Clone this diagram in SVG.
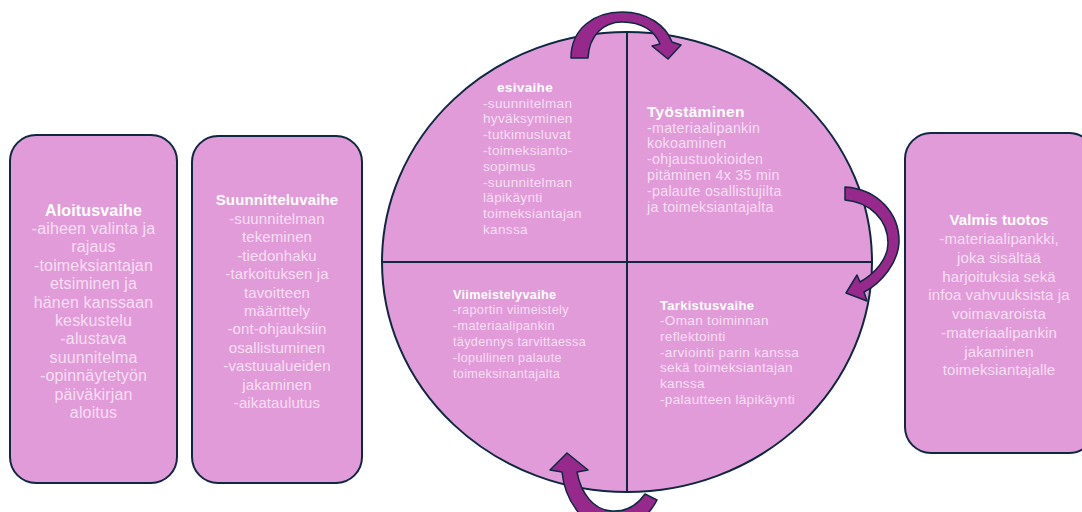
<svg xmlns="http://www.w3.org/2000/svg" width="1082" height="512" viewBox="0 0 1082 512">
<style>
.box{fill:#E29BD9;stroke:#0E2841;stroke-width:2}
.line{stroke:#0E2841;stroke-width:2;fill:none}
.arrow{fill:#97298C;stroke:#0E2841;stroke-width:1.5;stroke-linejoin:round}
.t{font-family:"Liberation Sans",Arial,sans-serif;fill:#F6DFF2}
.b{font-weight:bold;fill:#FFFFFF}
.bx{font-size:16px;text-anchor:middle;letter-spacing:0.15px}
.bx2{font-size:15px;text-anchor:middle;letter-spacing:0.1px}
.q{font-size:12.6px;letter-spacing:0.35px}
.q2{font-size:13.6px;letter-spacing:0.3px}
</style>
<rect width="1082" height="512" fill="#FFFFFF"/>

<g id="aloitusvaihe">
<rect class="box" x="10" y="135" width="167" height="348" rx="26"/>
<text class="t bx" x="93.5" y="215.5"><tspan class="b">Aloitusvaihe</tspan><tspan x="93.5" dy="18.4">-aiheen valinta ja</tspan><tspan x="93.5" dy="18.4">rajaus</tspan><tspan x="93.5" dy="18.4">-toimeksiantajan</tspan><tspan x="93.5" dy="18.4">etsiminen ja</tspan><tspan x="93.5" dy="18.4">hänen kanssaan</tspan><tspan x="93.5" dy="18.4">keskustelu</tspan><tspan x="93.5" dy="18.4">-alustava</tspan><tspan x="93.5" dy="18.4">suunnitelma</tspan><tspan x="93.5" dy="18.4">-opinnäytetyön</tspan><tspan x="93.5" dy="18.4">päiväkirjan</tspan><tspan x="93.5" dy="18.4">aloitus</tspan></text>
</g>

<g id="suunnitteluvaihe">
<rect class="box" x="192" y="136" width="170" height="347" rx="26"/>
<text class="t bx2" x="277" y="205.3"><tspan class="b">Suunnitteluvaihe</tspan><tspan x="277" dy="18.45">-suunnitelman</tspan><tspan x="277" dy="18.45">tekeminen</tspan><tspan x="277" dy="18.45">-tiedonhaku</tspan><tspan x="277" dy="18.45">-tarkoituksen ja</tspan><tspan x="277" dy="18.45">tavoitteen</tspan><tspan x="277" dy="18.45">määrittely</tspan><tspan x="277" dy="18.45">-ont-ohjauksiin</tspan><tspan x="277" dy="18.45">osallistuminen</tspan><tspan x="277" dy="18.45">-vastuualueiden</tspan><tspan x="277" dy="18.45">jakaminen</tspan><tspan x="277" dy="18.45">-aikataulutus</tspan></text>
</g>

<g id="valmis-tuotos">
<rect class="box" x="905" y="133" width="190" height="320" rx="26"/>
<text class="t bx2" x="999" y="225.3"><tspan class="b">Valmis tuotos</tspan><tspan x="999" dy="18.75">-materiaalipankki,</tspan><tspan x="999" dy="18.75">joka sisältää</tspan><tspan x="999" dy="18.75">harjoituksia sekä</tspan><tspan x="999" dy="18.75">infoa vahvuuksista ja</tspan><tspan x="999" dy="18.75">voimavaroista</tspan><tspan x="999" dy="18.75">-materiaalipankin</tspan><tspan x="999" dy="18.75">jakaminen</tspan><tspan x="999" dy="18.75">toimeksiantajalle</tspan></text>
</g>

<g id="kehä">
<ellipse class="box" cx="627" cy="262" rx="245" ry="230"/>
<line class="line" x1="627" y1="32" x2="627" y2="492"/>
<line class="line" x1="382" y1="262" x2="872" y2="262"/>
</g>

<g id="esivaihe">
<text class="t q2" x="497" y="92"><tspan class="b">esivaihe</tspan></text>
<text class="t q2" x="483" y="107.5"><tspan>-suunnitelman</tspan><tspan x="483" dy="15.8">hyväksyminen</tspan><tspan x="483" dy="15.8">-tutkimusluvat</tspan><tspan x="483" dy="15.8">-toimeksianto-</tspan><tspan x="483" dy="15.8">sopimus</tspan><tspan x="483" dy="15.8">-suunnitelman</tspan><tspan x="483" dy="15.8">läpikäynti</tspan><tspan x="483" dy="15.8">toimeksiantajan</tspan><tspan x="483" dy="15.8">kanssa</tspan></text>
</g>

<g id="tyostaminen">
<text class="t" x="647" y="116.5" style="font-size:15.5px;letter-spacing:0.3px"><tspan class="b">Työstäminen</tspan></text>
<text class="t" x="647" y="132.5" style="font-size:14.2px;letter-spacing:0.3px"><tspan>-materiaalipankin</tspan><tspan x="647" dy="15.9">kokoaminen</tspan><tspan x="647" dy="15.9">-ohjaustuokioiden</tspan><tspan x="647" dy="15.9">pitäminen 4x 35 min</tspan><tspan x="647" dy="15.9">-palaute osallistujilta</tspan><tspan x="647" dy="15.9">ja toimeksiantajalta</tspan></text>
</g>

<g id="viimeistelyvaihe">
<text class="t q" x="453" y="298.5"><tspan class="b">Viimeistelyvaihe</tspan><tspan x="453" dy="15.8">-raportin viimeistely</tspan><tspan x="453" dy="15.8">-materiaalipankin</tspan><tspan x="453" dy="15.8">täydennys tarvittaessa</tspan><tspan x="453" dy="15.8">-lopullinen palaute</tspan><tspan x="453" dy="15.8">toimeksinantajalta</tspan></text>
</g>

<g id="tarkistusvaihe">
<text class="t q2" x="660" y="309.5"><tspan class="b" style="font-size:13px">Tarkistusvaihe</tspan><tspan x="660" dy="15.7">-Oman toiminnan</tspan><tspan x="660" dy="15.7">reflektointi</tspan><tspan x="660" dy="15.7">-arviointi parin kanssa</tspan><tspan x="660" dy="15.7">sekä toimeksiantajan</tspan><tspan x="660" dy="15.7">kanssa</tspan><tspan x="660" dy="15.7">-palautteen läpikäynti</tspan></text>
</g>

<g id="connectors">
<path class="arrow" d="M571,58 C571,28 595,12 622,12 C648,12 666,26 672,42 L681,45 L668,59 L652,46 L660,44 C655,31 642,22 622,22 C603,22 589,36 588,58 Z"/>
<path class="arrow" d="M845,187 C878,189 900,214 899,243 C898,262 882,283 864,292 L867,301 L846,293 L857,275 L860,282 C876,273 888,258 888,243 C888,220 870,202 845,200 Z"/>
<path class="arrow" d="M567,453 L588,470 L577,472 C581,494 594,510 612,511 C627,512 638,504 645,494 L657,500 C648,518 630,530 610,530 C585,528 565,502 562,472 L550,470 Z"/>
</g>
</svg>
